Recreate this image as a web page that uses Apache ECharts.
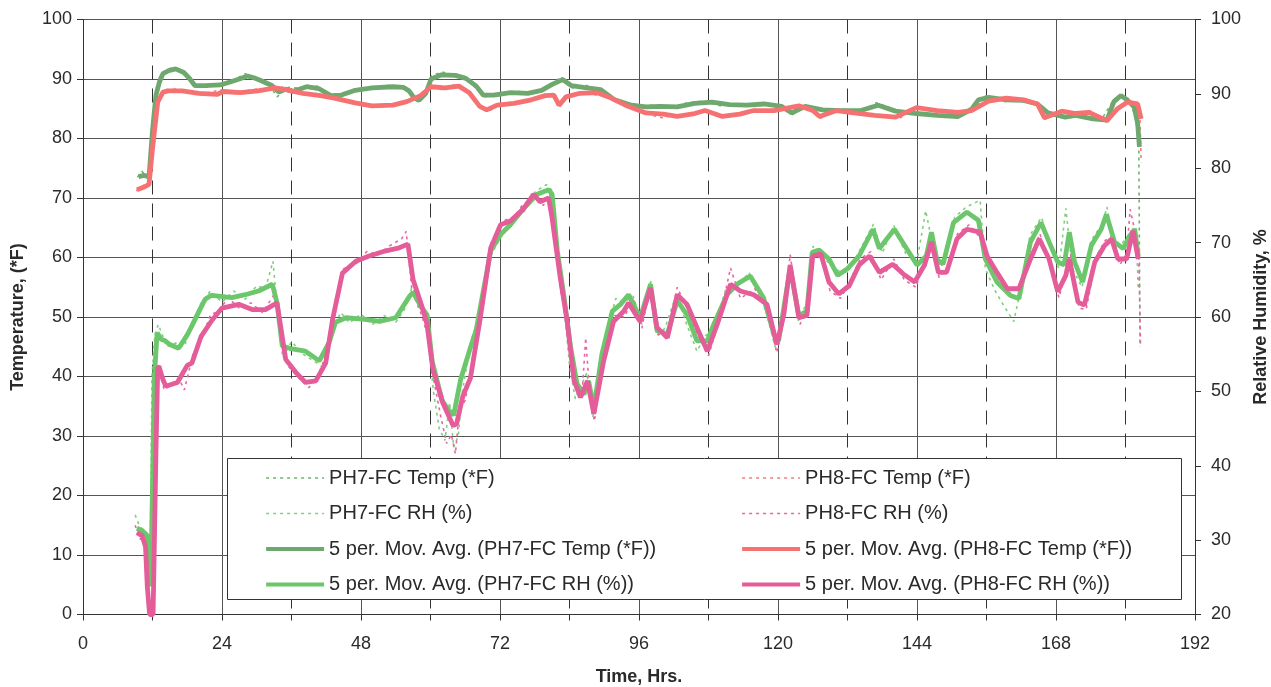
<!DOCTYPE html>
<html>
<head>
<meta charset="utf-8">
<script src="https://cdn.jsdelivr.net/npm/echarts@6/dist/echarts.min.js"></script>
<style>
html,body{margin:0;padding:0;background:#fff;}
#chart{width:1271px;height:687px;}
</style>
</head>
<body>
<div id="chart"></div>
<script>
// ---- Data: [hour, value] pairs ----
const seriesNames = [
  'PH7-FC Temp (*F)', 'PH7-FC RH (%)',
  '5 per. Mov. Avg. (PH7-FC Temp (*F))', '5 per. Mov. Avg. (PH7-FC RH (%))',
  'PH8-FC Temp (*F)', 'PH8-FC RH (%)',
  '5 per. Mov. Avg. (PH8-FC Temp (*F))', '5 per. Mov. Avg. (PH8-FC RH (%))'
];
const xTicks = { min: 0, max: 192, step: 24 };
const tempTicks = { min: 0, max: 100, step: 10 };
const rhTicks = { min: 20, max: 100, step: 10 };

const ph7TempRaw = [[9.4,73.5],[10.2,74.5],[11.2,73.2],[12.0,80.5],[12.5,86.5],[13.2,90.3],[15,91.8],[17,91.4],[19,89.2],[21.5,88.6],[24,89.3],[26,89.8],[28,90.9],[30,89.8],[32,89.3],[33.5,87.0],[35.5,88.6],[38,88.4],[40.5,88.8],[42.5,87.0],[45,87.5],[47.5,88.4],[50,88.3],[53,89.0],[55.5,88.4],[57.5,86.5],[59,87.2],[60.2,90.5],[62,91.2],[64.5,90.4],[66.5,89.8],[68,88.3],[69.5,87.0],[72,87.6],[75,87.9],[78,87.8],[80.5,88.6],[82.5,90.4],[84.5,88.5],[87,88.9],[89.5,87.9],[92,86.3],[95,85.3],[98,85.6],[101,85.1],[104,85.9],[107,86.3],[110,85.5],[113,85.9],[116,85.4],[119,85.9],[121,85.0],[122.5,84.0],[125,85.7],[128,84.5],[131,85.0],[134,84.4],[137,86.0],[140,84.9],[143,84.0],[146,84.1],[149,83.5],[152,83.9],[154,86.0],[156,87.2],[159,86.2],[162,86.7],[165,85.5],[167,84.0],[170,83.8],[173,83.5],[176,83.4],[178,86.6],[179.5,87.4],[181,86.0],[182,82.0],[182.3,79.0],[182.5,45.0]];

const ph7TempMA = [[9.6,73.6],[10.5,73.8],[11.4,73.6],[12,81.3],[12.6,87.3],[13.2,89.5],[13.8,90.9],[14.8,91.4],[16,91.7],[17.4,91.1],[18.3,90.2],[19.3,88.9],[21,88.9],[23.7,89.0],[25.4,89.5],[27,90.0],[28.4,90.5],[29.5,90.2],[30.8,89.7],[32.6,88.9],[33.8,87.8],[35,88.3],[36.2,87.9],[38.6,88.7],[40.7,88.4],[42.8,87.2],[44.6,87.3],[47,88.1],[49.9,88.5],[53.5,88.7],[55.3,88.6],[56.3,88.0],[57.1,86.9],[58,86.4],[59.2,87.6],[60.1,90.0],[61.9,90.7],[64.3,90.6],[66.1,90.1],[67.9,88.8],[69.1,87.3],[70.9,87.3],[73.8,87.7],[76.8,87.6],[79.2,88.1],[81,89.1],[82.8,89.9],[84.3,88.9],[86.4,88.6],[89.4,88.2],[91.8,86.5],[94.7,85.6],[97.2,85.3],[99.7,85.4],[102.6,85.3],[105.6,85.9],[108.6,86.1],[111.6,85.7],[114.6,85.6],[117.6,85.8],[120.6,85.4],[122.4,84.3],[124.7,85.4],[127.7,84.8],[130.7,84.7],[134.3,84.7],[137.3,85.6],[140.3,84.6],[143.9,84.2],[147.5,83.9],[151.1,83.7],[153.4,84.9],[154.6,86.5],[156.4,86.9],[159.4,86.5],[162.4,86.4],[164.8,85.8],[166.6,84.3],[169.6,83.6],[171.4,83.9],[174.4,83.3],[176.8,83.1],[178,86.2],[179.2,87.2],[180.3,86.5],[181.5,85.3],[182.1,82.5],[182.4,78.6]];

const ph8TempRaw = [[9.2,71.2],[10.2,72.0],[11.3,72.6],[12.1,79.5],[12.8,85.5],[13.8,88.2],[16,88.3],[18,87.8],[20,87.3],[22,87.8],[24,88.2],[26,87.5],[28,88.0],[30,88.3],[32,88.2],[34,88.8],[36,88.0],[38,87.4],[40,87.5],[42,86.9],[44,86.6],[46,86.2],[48,85.6],[50,85.3],[52,85.8],[54,85.5],[56,86.4],[58,87.0],[60,88.9],[62,88.2],[64,89.0],[66,88.4],[68,85.8],[70,84.5],[72,85.9],[74,85.7],[76,86.3],[78,86.8],[80,87.5],[81.5,87.5],[82.2,85.2],[83.5,87.3],[86,87.8],[88,87.4],[90,87.2],[92,86.4],[94,85.6],[96,84.6],[98,84.0],[100,83.5],[102,83.9],[104,84.0],[106,84.5],[108,84.5],[110,83.5],[112,84.0],[114,84.4],[116,84.9],[118,84.5],[120,84.9],[122,85.2],[124,85.7],[126,84.5],[127.3,83.4],[129,84.4],[131,84.9],[133,84.1],[135,84.0],[137,83.7],[139,83.8],[141,83.4],[143,84.8],[145,85.3],[147,84.5],[149,84.6],[151,84.2],[153,84.9],[155,85.9],[157,86.6],[159,87.0],[161,86.6],[163,86.3],[165,85.6],[166,83.2],[168,84.4],[170,84.7],[172,84.0],[174,84.6],[176,83.3],[177,82.8],[178.5,84.8],[180,86.3],[181.5,86.0],[182.5,83.5],[182.7,76.0]];

const ph8TempMA = [[9.3,71.4],[10.5,71.8],[11.4,72.3],[12,78.3],[12.9,86.1],[13.8,87.8],[14.7,88.0],[17.1,88.0],[20,87.6],[23.1,87.4],[24.2,87.9],[27.2,87.7],[30.2,88.0],[33.2,88.5],[35,88.2],[38,87.6],[41,87.2],[43.4,86.8],[47,86.0],[49.9,85.5],[53.5,85.6],[55.9,86.2],[58.3,87.2],[60.1,88.7],[62.5,88.5],[64.9,88.8],[66.7,87.7],[68.5,85.4],[69.7,84.8],[71.5,85.6],[74.4,85.9],[77.4,86.5],[79.8,87.2],[81.3,87.3],[82.2,85.6],[83.4,87.0],[85.8,87.6],[88.8,87.7],[91.2,86.8],[94.1,85.4],[97.2,84.3],[100.2,84.1],[102.6,83.7],[105.6,84.2],[107.4,84.7],[110.4,83.7],[113.4,84.1],[115.8,84.7],[119.3,84.7],[123.6,85.5],[126,84.7],[127.2,83.7],[130.1,84.7],[133.1,84.3],[136.7,83.9],[140.3,83.6],[143.9,85.2],[147.5,84.7],[151.1,84.4],[153.4,84.7],[156.4,86.3],[159.4,86.8],[162.4,86.5],[164.8,85.8],[166,83.5],[169,84.6],[171.4,84.2],[173.7,84.4],[176.8,83.0],[178.6,85.0],[180.3,86.1],[182.1,85.8],[182.7,83.3]];

const ph7RhRaw = [[9,33.4],[9.8,31.8],[11,31.0],[11.6,27.0],[11.9,52.0],[12.4,57.5],[13,59.0],[14.5,56.0],[16,56.5],[17.5,56.0],[19,59.6],[20.5,62.0],[22,63.5],[24,62.0],[26,63.5],[28,62.4],[30,64.2],[31.5,63.8],[32.8,67.5],[33.6,60.5],[34.5,54.5],[36,56.7],[38,55.0],[40,54.0],[41.5,53.2],[43,58.0],[44.5,60.6],[46,59.2],[48,60.4],[50,59.0],[52,60.2],[54,59.3],[55.5,61.0],[56.8,64.0],[58,62.3],[59.5,58.5],[60.5,50.0],[61.5,45.0],[62.5,43.4],[63.3,48.5],[64,42.5],[64.8,44.0],[65.5,50.0],[67,56.8],[68.5,60.5],[70,67.8],[72,70.5],[74,73.0],[76,74.0],[78,76.8],[80,77.8],[81,77.0],[82,66.5],[83,62.0],[84,53.5],[85,49.0],[86,50.8],[87,52.5],[88,46.5],[89,50.5],[90.5,58.5],[92,62.5],[93.5,62.0],[95,62.8],[96.5,59.0],[98,65.0],[99,57.5],[100.5,58.5],[102.5,63.2],[104,59.5],[106,55.4],[107.5,57.5],[109,58.5],[111,63.8],[113,64.0],[115,66.0],[117.5,62.0],[119.5,56.0],[120.5,58.2],[122,67.0],[123.5,59.5],[125,62.0],[126,69.5],[127.5,68.4],[129,67.0],[130.5,66.2],[132,66.0],[134,68.8],[136.5,72.5],[138,68.6],[140,72.3],[142,68.6],[144,67.5],[145.5,74.3],[146.5,70.5],[147.5,66.8],[149,68.2],[150.5,73.4],[152.5,74.8],[154.9,75.7],[155.8,66.5],[157.5,63.5],[159,61.5],[160.7,59.4],[162,64.0],[163.5,71.0],[165.5,73.4],[167,69.5],[168.5,66.5],[169.7,74.6],[170.8,66.5],[172.5,64.0],[174,70.2],[176,72.5],[176.8,74.8],[178,69.5],[179.5,70.0],[181,71.5],[181.8,72.0],[182.2,64.0]];

const ph7RhMA = [[9.3,31.6],[10.2,31.3],[11.1,30.6],[11.7,23.8],[12.0,37.2],[12.3,51.6],[12.8,57.9],[13.5,57.0],[14.2,56.8],[15,56.3],[16.5,55.8],[18,57.6],[18.8,58.8],[20.3,61.2],[21.1,62.4],[22.1,62.9],[23.4,62.8],[25.7,62.6],[28,63.0],[30.3,63.5],[32.7,64.4],[33.5,61.9],[34.4,56.1],[36.1,55.7],[38.4,55.4],[40.8,54.1],[42.5,56.6],[43.6,59.3],[45.4,59.9],[48.3,59.7],[51.2,59.4],[54,59.9],[56.4,62.8],[57,63.3],[58.5,61.2],[59.4,60.3],[60.3,54.0],[62,48.8],[63,47.6],[64,46.8],[65.2,51.6],[66.9,55.9],[67.9,58.3],[68.6,61.3],[70.4,68.9],[72.1,71.1],[73.8,72.4],[76.1,74.6],[78.4,76.5],[80.4,77.1],[81,76.5],[81.9,68.9],[83,63.0],[84.2,55.9],[85.3,51.0],[86.5,49.6],[87.3,51.4],[88.2,47.8],[89.6,55.0],[91.4,60.8],[92.8,61.7],[94.2,63.0],[96.2,59.9],[98,64.4],[99.1,58.2],[100.9,57.7],[102.6,62.2],[104.3,60.3],[106,56.8],[107.8,56.8],[108.9,59.0],[111.2,63.0],[112.9,64.4],[115.2,65.5],[117.5,62.6],[119.3,57.7],[120.1,56.8],[122.1,66.6],[123.6,60.2],[125,60.8],[125.9,68.7],[127.1,69.0],[128.8,67.8],[130.3,65.6],[132,66.5],[134,68.2],[136.4,71.8],[137.5,69.2],[140.1,71.8],[142.2,69.2],[144,67.0],[145.6,68.2],[146.5,71.4],[147.4,67.8],[148.5,67.1],[150.3,72.7],[152.6,74.1],[154.6,73.0],[155.8,67.8],[157.8,64.7],[160.1,62.9],[161.6,62.5],[163.6,70.1],[165.4,72.7],[166.8,70.1],[168.3,67.4],[169.4,67.0],[170.3,71.4],[171.2,67.4],[172.6,64.7],[174.1,69.6],[175.8,71.8],[176.7,73.8],[178.1,70.1],[179.6,69.2],[180.8,71.0],[181.6,71.8],[182.2,68.2]];

const ph8RhRaw = [[9,32.0],[9.8,30.2],[10.6,29.8],[11.2,22.0],[11.6,20.0],[12.2,20.0],[12.7,48.0],[13.1,53.8],[14,50.2],[15,50.8],[16.5,51.8],[17.5,50.2],[19,55.0],[20.5,57.0],[22,60.3],[23.5,60.8],[25,62.6],[27,61.2],[29,61.9],[31,60.6],[33,63.0],[34,58.0],[35.3,53.5],[37,52.0],[39,50.5],[40.5,52.0],[42,55.0],[43.5,62.0],[45,66.5],[47,67.0],[49,68.8],[51,68.4],[53,69.6],[55,70.5],[55.8,71.5],[56.8,63.5],[58.5,60.2],[59.5,57.5],[60.5,51.8],[61.8,46.5],[62.8,43.0],[63.6,44.2],[64.3,41.6],[65,47.5],[66,48.8],[67.5,55.0],[69,62.5],[70.5,70.0],[72.5,72.9],[74.5,73.5],[76,75.2],[78,76.0],[79.5,75.0],[80.6,76.5],[81.3,71.5],[82.5,63.5],[83.8,58.5],[85,50.5],[86.2,50.0],[86.8,57.2],[87.5,49.5],[88.3,46.0],[90,55.0],[91.8,60.2],[93.5,60.0],[95,62.6],[96.5,58.5],[98,64.6],[99.3,57.6],[101,57.8],[102.6,64.0],[104.5,60.8],[106.2,57.5],[108,54.8],[110,60.0],[111.8,66.6],[113.5,62.5],[116,63.8],[118,60.8],[119.8,55.2],[121,59.6],[122.1,68.4],[123.8,59.0],[125,61.0],[126,69.0],[127.6,67.5],[129,63.5],[130.8,62.5],[132.5,65.0],[134.2,67.8],[136,68.8],[137.8,65.0],[140,67.8],[141.8,65.0],[143.8,64.0],[145.3,67.6],[146.5,71.0],[147.8,65.3],[149.3,66.8],[151,71.2],[153,72.4],[155,70.6],[156.3,67.4],[158,65.3],[159.8,63.0],[161.8,64.5],[163.8,68.5],[165.2,71.2],[167,67.0],[168.5,62.6],[169.8,66.3],[170.5,68.5],[172,61.2],[173.2,61.0],[175,68.2],[176.5,70.3],[177.8,71.0],[179,67.0],[180.2,68.5],[180.8,74.5],[181.5,72.0],[182.3,68.0],[182.6,56.0]];

const ph8RhMA = [[9.3,31.0],[10.2,30.6],[10.8,29.1],[11.1,23.8],[11.5,20.0],[12.1,20.0],[12.6,42.0],[12.9,53.0],[13.1,53.4],[13.8,51.6],[14.3,50.7],[16.3,51.2],[18,53.5],[18.8,53.8],[20.4,57.4],[22.3,59.6],[24,61.2],[26.9,61.7],[29.2,61.0],[31.5,61.0],[33.5,61.9],[35,54.3],[36.7,52.6],[38.4,51.2],[40.2,51.4],[41.9,53.8],[43.1,59.7],[44.8,65.9],[47.1,67.5],[49.4,68.2],[52.3,68.9],[54.6,69.3],[56.1,69.8],[57,65.0],[58.7,61.0],[59.4,59.0],[60.4,53.0],[62.1,48.5],[63.9,45.4],[64.5,45.6],[65.6,49.4],[66.9,51.8],[68.6,59.9],[70.4,69.3],[72.1,72.4],[73.8,72.9],[76.1,74.6],[77.8,76.5],[78.9,75.5],[80.4,76.0],[81,73.3],[82.4,65.3],[83.6,59.4],[84.8,51.4],[85.9,49.2],[87.1,51.4],[88.2,47.0],[89.9,54.1],[91.6,59.4],[93.4,60.8],[94.2,61.9],[96.2,59.4],[98,63.9],[99.1,58.6],[100.9,57.2],[102.6,63.0],[104.3,61.7],[106,58.6],[107.8,55.4],[109.5,59.0],[111.8,64.4],[113.5,63.5],[115.8,63.0],[118.1,61.7],[119.8,56.3],[121,60.3],[122.1,67.0],[123.6,59.9],[125,60.2],[126,68.2],[127.4,68.5],[128.8,64.7],[130.5,63.1],[132.3,64.2],[134,67.0],[135.8,68.2],[137.5,66.0],[139.8,67.1],[141.6,65.8],[143.6,64.7],[145.3,67.0],[146.5,70.1],[147.7,66.0],[149.1,66.0],[150.9,70.5],[152.6,71.8],[154.9,71.4],[156.1,68.2],[157.8,66.0],[159.6,63.8],[161.6,63.8],[163.6,67.8],[165.1,70.5],[166.8,67.8],[168.3,63.4],[169.7,65.6],[170.3,67.8],[171.8,62.0],[172.9,61.6],[174.7,67.4],[176.4,69.6],[177.6,70.5],[178.7,67.8],[180.2,67.8],[181.3,71.6],[182.2,67.8]];

// ---- Styling ----
const FONT = "'Liberation Sans', Arial, sans-serif";
const C = {
  ph7Temp: '#6ea86e', ph7Rh: '#6cc66c', ph8Temp: '#f67272', ph8Rh: '#e45c98',
  ph7TempRaw: '#6cb46c', ph7RhRaw: '#80d080', ph8TempRaw: '#f47c7c', ph8RhRaw: '#e866a2'
};
const RAW_W = 1.6, MA_W = 4.8, RAW_DASH = [3, 4];

function raw(name, data, color, yIdx) {
  return { name, type: 'line', data, yAxisIndex: yIdx, symbol: 'none', z: 2,
    lineStyle: { color, width: RAW_W, type: RAW_DASH }, itemStyle: { color } };
}
function ma(name, data, color, yIdx) {
  return { name, type: 'line', data, yAxisIndex: yIdx, symbol: 'none', z: 3,
    lineStyle: { color, width: MA_W }, itemStyle: { color } };
}
function legRaw(name, color) {
  return { name, lineStyle: { color, width: 1.6, type: RAW_DASH } };
}
function legMa(name, color) {
  return { name, lineStyle: { color, width: 4.2, type: 'solid' } };
}

const legendCommon = {
  orient: 'vertical', top: 462, itemWidth: 58, itemHeight: 10, itemGap: 13.5,
  itemStyle: { opacity: 0, borderWidth: 0 },
  textStyle: { fontSize: 20, color: '#2a2a2a', fontFamily: FONT, lineHeight: 22 }, z: 5
};

const chart = echarts.init(document.getElementById('chart'), null, { renderer: 'canvas' });
const option = {
  animation: false,
  backgroundColor: '#ffffff',
  textStyle: { fontFamily: FONT },
  grid: { left: 83, right: 76, top: 19.5, bottom: 72.5, outerBoundsMode: 'none', containLabel: false },
  graphic: [{
    type: 'rect', z: 1,
    shape: { x: 227.5, y: 458.5, width: 954, height: 141 },
    style: { fill: '#ffffff', stroke: '#333333', lineWidth: 1 }
  }],
  legend: [
    Object.assign({ data: [
      legRaw(seriesNames[0], C.ph7TempRaw), legRaw(seriesNames[1], C.ph7RhRaw),
      legMa(seriesNames[2], C.ph7Temp), legMa(seriesNames[3], C.ph7Rh)
    ], left: 259 }, legendCommon),
    Object.assign({ data: [
      legRaw(seriesNames[4], C.ph8TempRaw), legRaw(seriesNames[5], C.ph8RhRaw),
      legMa(seriesNames[6], C.ph8Temp), legMa(seriesNames[7], C.ph8Rh)
    ], left: 735 }, legendCommon)
  ],
  xAxis: {
    type: 'value', min: xTicks.min, max: xTicks.max, interval: xTicks.step,
    name: 'Time, Hrs.', nameLocation: 'middle', nameGap: 54,
    nameTextStyle: { fontSize: 18, fontWeight: 'bold', color: '#2a2a2a', fontFamily: FONT },
    axisLine: { show: true, lineStyle: { color: '#333', width: 1 } },
    axisTick: { show: true, length: 6, lineStyle: { color: '#333' } },
    minorTick: { show: true, splitNumber: 2, length: 6, lineStyle: { color: '#333' } },
    axisLabel: { fontSize: 18, color: '#2a2a2a', margin: 21, fontFamily: FONT },
    splitLine: { show: true, lineStyle: { color: '#555', width: 1 } },
    minorSplitLine: { show: true, lineStyle: { color: '#333', width: 1, type: [14, 9] } }
  },
  yAxis: [
    {
      type: 'value', min: tempTicks.min, max: tempTicks.max, interval: tempTicks.step,
      name: 'Temperature, (*F)', nameLocation: 'middle', nameGap: 56,
      nameTextStyle: { fontSize: 18, fontWeight: 'bold', color: '#2a2a2a', fontFamily: FONT },
      axisLine: { show: true, lineStyle: { color: '#333', width: 1 } },
      axisTick: { show: true, length: 6, lineStyle: { color: '#333' } },
      axisLabel: { fontSize: 18, color: '#2a2a2a', margin: 11, fontFamily: FONT },
      splitLine: { show: true, lineStyle: { color: '#555', width: 1 } }
    },
    {
      type: 'value', position: 'right', min: rhTicks.min, max: rhTicks.max, interval: rhTicks.step,
      name: 'Relative Humidity, %', nameLocation: 'middle', nameGap: 57,
      nameTextStyle: { fontSize: 18, fontWeight: 'bold', color: '#2a2a2a', fontFamily: FONT },
      axisLine: { show: true, lineStyle: { color: '#333', width: 1 } },
      axisTick: { show: true, length: 6, lineStyle: { color: '#333' } },
      axisLabel: { fontSize: 18, color: '#2a2a2a', margin: 16, fontFamily: FONT },
      splitLine: { show: false }
    }
  ],
  series: [
    raw(seriesNames[0], ph7TempRaw, C.ph7TempRaw, 0),
    raw(seriesNames[1], ph7RhRaw, C.ph7RhRaw, 1),
    raw(seriesNames[4], ph8TempRaw, C.ph8TempRaw, 0),
    raw(seriesNames[5], ph8RhRaw, C.ph8RhRaw, 1),
    ma(seriesNames[2], ph7TempMA, C.ph7Temp, 0),
    ma(seriesNames[3], ph7RhMA, C.ph7Rh, 1),
    ma(seriesNames[6], ph8TempMA, C.ph8Temp, 0),
    ma(seriesNames[7], ph8RhMA, C.ph8Rh, 1)
  ]
};
chart.setOption(option);
</script>
</body>
</html>
